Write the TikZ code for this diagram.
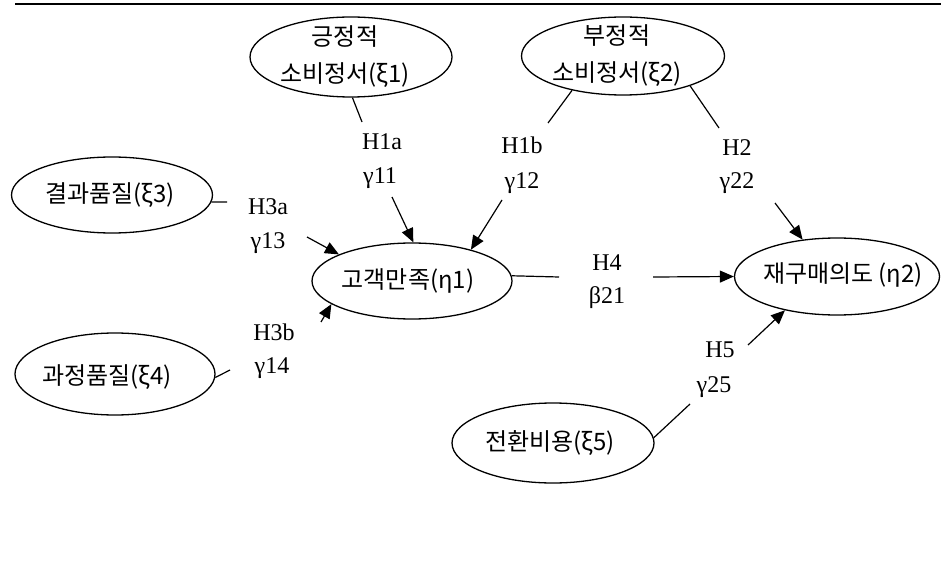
\documentclass[tikz,border=0pt]{standalone}
\usepackage{fontspec}
\setmainfont{Liberation Serif}
\newfontfamily\kr{Noto Sans CJK KR}
\usetikzlibrary{shapes.geometric,arrows.meta}
\begin{document}
\begin{tikzpicture}[x=1pt,y=-1pt,
  lv/.style={draw,ellipse,inner sep=0pt,line width=1.3pt},
  kt/.style={font=\kr\fontsize{24}{37}\selectfont,align=center,inner sep=0pt},
  lbl/.style={font=\fontsize{24}{24}\selectfont,inner sep=0pt},
  ln/.style={line width=1.2pt},
  arr/.style={line width=1.2pt,-{Triangle[length=14pt,width=12pt]}}]
\useasboundingbox (0,0) rectangle (941,577);
% top rule
\coordinate (r1) at (15,4);
\coordinate (r2) at (941,4);
\draw[line width=2pt] (r1) -- (r2);
% latent variables
\node[lv,minimum width=202pt,minimum height=80pt,label={[kt,xshift=-6pt]center:{긍정적\\소비정서(ξ1)}}] (e1) at (351,57) {};
\node[lv,minimum width=203pt,minimum height=78pt,label={[kt,xshift=-6pt]center:{부정적\\소비정서(ξ2)}}] (e2) at (623,56) {};
\node[lv,minimum width=201pt,minimum height=76pt,label={[kt,xshift=-2pt]center:{결과품질(ξ3)}}] (e3) at (112,195) {};
\node[lv,minimum width=200pt,minimum height=82pt,label={[kt,xshift=-8pt,yshift=-3pt]center:{과정품질(ξ4)}}] (e4) at (115,374) {};
\node[lv,minimum width=200pt,minimum height=76pt,label={[kt,xshift=-4pt]center:{고객만족(η1)}}] (eta1) at (412,281) {};
\node[lv,minimum width=205pt,minimum height=77pt,label={[kt,xshift=6pt,yshift=2pt]center:{재구매의도 (η2)}}] (eta2) at (837,276.5) {};
\node[lv,minimum width=202pt,minimum height=80pt,label={[kt,xshift=-3pt]center:{전환비용(ξ5)}}] (e5) at (553,443) {};
% path labels
\node[lbl] (h1a) at (382,142) {H1a};
\node[lbl] (g11) at (380,178) {γ11};
\node[lbl] (h1b) at (522,145) {H1b};
\node[lbl] (g12) at (522,183) {γ12};
\node[lbl] (h2) at (737,148) {H2};
\node[lbl] (g22) at (737,183) {γ22};
\node[lbl] (h3a) at (268,207) {H3a};
\node[lbl] (g13) at (268,243) {γ13};
\node[lbl] (h3b) at (274,332) {H3b};
\node[lbl] (g14) at (272,368) {γ14};
\node[lbl] (h4) at (607,263) {H4};
\node[lbl] (b21) at (607,298) {β21};
\node[lbl] (h5) at (720,350) {H5};
\node[lbl] (g25) at (714,387) {γ25};
% connector break points
\coordinate (a1) at (362,122);
\coordinate (b1) at (392,197);
\coordinate (a2) at (548,123);
\coordinate (b2) at (502,200);
\coordinate (a3) at (719,128);
\coordinate (b3) at (775,203);
\coordinate (a4) at (227,202);
\coordinate (b4) at (307,237);
\coordinate (a5) at (230,370);
\coordinate (b5) at (321,322);
\coordinate (a6) at (559,277);
\coordinate (b6) at (653,277);
\coordinate (a7) at (690,404);
\coordinate (b7) at (748,345);
% connectors
\draw[ln] (e1.272) -- (a1);
\draw[arr] (b1) -- (eta1.88);
\draw[ln] (e2.214) -- (a2);
\draw[arr] (b2) -- (eta1.28);
\draw[ln] (e2.336) -- (a3);
\draw[arr] (b3) -- (eta2.133);
\draw[ln] (e3.-4) -- (a4);
\draw[arr] (b4) -- (eta1.160);
\draw[ln] (e4.-2) -- (a5);
\draw[arr] (b5) -- (eta1.196);
\draw[ln] (eta1.3) -- (a6);
\draw[arr] (b6) -- (eta2.west);
\draw[ln] (e5.3) -- (a7);
\draw[arr] (b7) -- (eta2.213);
\end{tikzpicture}
\end{document}
